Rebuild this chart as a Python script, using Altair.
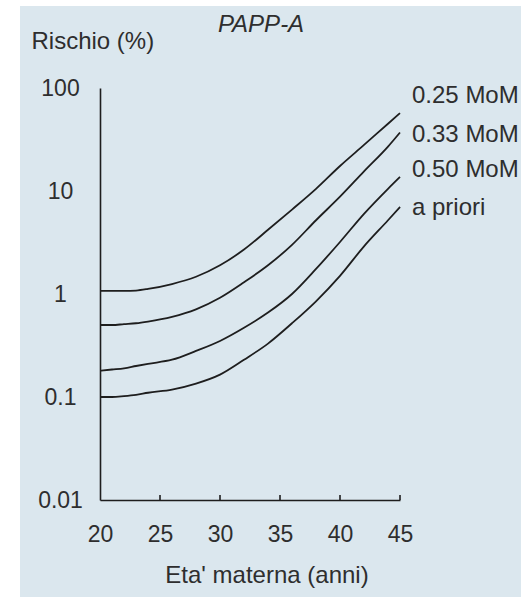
import altair as alt
import pandas as pd

# ---- data ----
ages = [20, 21, 22, 23, 24, 26, 28, 30, 32, 34, 36, 38, 40, 42, 44, 45]
risk_025 = [1.07, 1.07, 1.07, 1.08, 1.12, 1.25, 1.47, 1.9, 2.7, 4.2, 6.6, 10.5, 17.5, 28, 45, 57]
risk_033 = [0.5, 0.5, 0.51, 0.52, 0.54, 0.6, 0.71, 0.92, 1.3, 1.9, 3.0, 5.2, 8.8, 15.5, 27, 37]
risk_050 = [0.18, 0.185, 0.19, 0.2, 0.21, 0.23, 0.28, 0.35, 0.47, 0.66, 1.0, 1.75, 3.2, 6.0, 10.5, 13.7]
risk_prior = [0.1, 0.1, 0.102, 0.105, 0.11, 0.118, 0.135, 0.165, 0.23, 0.33, 0.52, 0.85, 1.5, 2.9, 5.2, 7.0]
series_names = ["0.25 MoM", "0.33 MoM", "0.50 MoM", "a priori"]
x_ticks = [20, 25, 30, 35, 40, 45]
y_ticks = [0.01, 0.1, 1, 10, 100]

rows = []
for name, vals in zip(series_names, [risk_025, risk_033, risk_050, risk_prior]):
    for a, v in zip(ages, vals):
        rows.append({"age": a, "risk": v, "serie": name})
df = pd.DataFrame(rows)
df_ticks = pd.DataFrame({"age": x_ticks[1:]})

W, H = 300, 412
FONT = "Liberation Sans"
TXT = "#2e2e2e"
LINE = "#1e1e1e"
BG = "#dbe7ee"
FS = 23
FT = 24

x_scale = alt.Scale(domain=[20, 45], nice=False, zero=False)
y_scale = alt.Scale(type="log", domain=[0.01, 100], nice=False)

x_axis = alt.Axis(
    values=x_ticks, ticks=False, tickSize=0, grid=False, zindex=2,
    domainColor=LINE, domainWidth=1.6,
    labelFont=FONT, labelFontSize=FS, labelColor=TXT,
    labelPadding=23, labelFlush=False, labelOverlap=False,
    title="Eta' materna (anni)", titleFont=FONT, titleFontSize=FT,
    titleFontWeight="normal", titleColor=TXT,
    titleX=166.5, titleY=82, titleAlign="center", titleBaseline="alphabetic",
)
y_axis = alt.Axis(
    values=y_ticks, format="~g", ticks=False, tickSize=0, grid=False, zindex=2,
    domainColor=LINE, domainWidth=1.6,
    labelFont=FONT, labelFontSize=FS, labelColor=TXT,
    labelPadding=40, labelAlign="center", labelFlush=False, labelOverlap=False,
    title="Rischio (%)", titleFont=FONT, titleFontSize=FT,
    titleFontWeight="normal", titleColor=TXT, titleAngle=0,
    titleAlign="left", titleBaseline="alphabetic", titleX=-69, titleY=-40,
)

one = pd.DataFrame({"k": [0]})

bg = alt.Chart(one).mark_rect(color=BG, clip=False).encode(
    x=alt.value(-80), x2=alt.value(421), y=alt.value(-82), y2=alt.value(509)
)

lines = alt.Chart(df).mark_line(
    color=LINE, strokeWidth=1.8, interpolate="monotone", clip=False
).encode(
    x=alt.X("age:Q", scale=x_scale, axis=x_axis),
    y=alt.Y("risk:Q", scale=y_scale, axis=y_axis),
    detail="serie:N",
)

tick_marks = alt.Chart(df_ticks).mark_rule(color=LINE, strokeWidth=1.6).encode(
    x=alt.X("age:Q", scale=x_scale, axis=x_axis),
    y=alt.value(H - 5),
    y2=alt.value(H),
)


def label(text, x, y, italic=False, align="left"):
    return alt.Chart(one).mark_text(
        text=text, font=FONT, fontSize=FT, color=TXT, align=align,
        baseline="alphabetic", fontStyle="italic" if italic else "normal",
    ).encode(x=alt.value(x), y=alt.value(y))


labels = [
    label(series_names[0], 312, 15),
    label(series_names[1], 312, 54),
    label(series_names[2], 312, 89),
    label(series_names[3], 312, 127),
    label("PAPP-A", 161, -56, italic=True, align="center"),
]

chart = alt.layer(bg, lines, tick_marks, *labels).properties(
    width=W,
    height=H,
    autosize=alt.AutoSizeParams(type="none"),
    padding={"left": 100, "top": 88, "right": 121, "bottom": 98},
    background="white",
).configure_view(stroke=None)

chart.save("out.html", embed_options={"renderer": "svg", "actions": False})
